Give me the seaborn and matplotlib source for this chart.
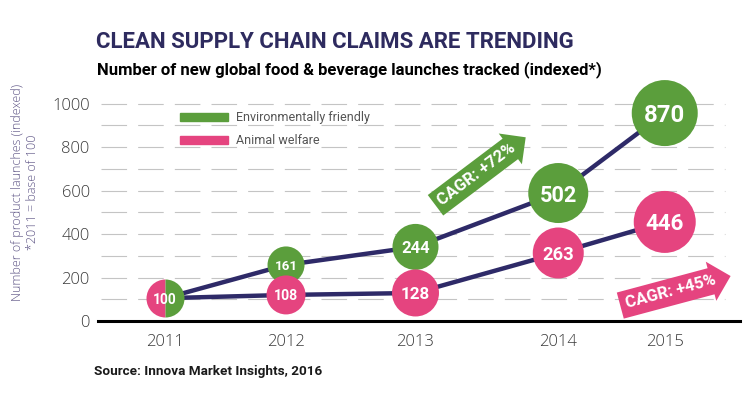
import seaborn as sns
import matplotlib.pyplot as plt
from matplotlib.patches import Patch

years = ['2011', '2012', '2013', '2014', '2015']
year_pos = [0, 1, 2.07, 3.25, 4.13]  # the years are not evenly spaced in the picture

env_labels = [100, 161, 244, 502, 870]
env_y = [105, 258, 341, 589, 957]  # height the bubbles are drawn at
env_r = [19, 18.5, 23, 30, 33]  # bubble radius (px)

animal_labels = [100, 108, 128, 263, 446]
animal_y = [105, 120, 129, 313, 456]
animal_r = [19, 19.5, 23.5, 25.5, 31]

series_names = ['Environmentally friendly', 'Animal welfare']
cagr = ['+72%', '+45%']

green = '#5b9e3c'
pink = '#e5447f'
navy = '#2e2a68'
W, H = 744, 398
narrow = ['Liberation Sans Narrow', 'Roboto', 'DejaVu Sans']
light = ['Open Sans', 'DejaVu Sans']

sns.set_style('white')
plt.rcParams['font.family'] = light

fig = plt.figure(figsize=(W / 100, H / 100), dpi=100)
ax = fig.add_axes([98 / W, 77 / H, 642 / W, 239 / H])
ax.set_xlim(-0.554, 4.752)
ax.set_ylim(0, 1100)

# dashed guide lines every 100
for v in range(100, 1001, 100):
    ax.axhline(v, xmin=0.004, xmax=0.976, color='#c4c4c4', lw=0.8, dashes=(23, 10), zorder=0)


def px_area(r):
    # scatter size is in points^2
    return (2 * r * 72 / 100) ** 2


# lines first, bubbles on top
sns.lineplot(x=year_pos, y=env_y, color=navy, lw=3.2, errorbar=None, ax=ax, zorder=2)
sns.lineplot(x=year_pos, y=animal_y, color=navy, lw=3.2, errorbar=None, ax=ax, zorder=2)

sns.scatterplot(x=year_pos[1:], y=env_y[1:], s=[px_area(r) for r in env_r[1:]],
                color=green, linewidth=0, ax=ax, zorder=3, clip_on=False)
sns.scatterplot(x=year_pos[1:], y=animal_y[1:], s=[px_area(r) for r in animal_r[1:]],
                color=pink, linewidth=0, ax=ax, zorder=4, clip_on=False)
# 2011 is the shared base: half pink, half green
ax.plot([year_pos[0]], [env_y[0]], marker='o', ms=2 * env_r[0] * 0.72, fillstyle='left',
        markerfacecolor=pink, markerfacecoloralt=green, markeredgewidth=0, zorder=5, clip_on=False)

for xs, ys, rs, labs, z in [(year_pos, env_y, env_r, env_labels, 6),
                            (year_pos[1:], animal_y[1:], animal_r[1:], animal_labels[1:], 7)]:
    for x, y, r, lab in zip(xs, ys, rs, labs):
        ax.text(x, y, str(lab), ha='center', va='center_baseline', color='white',
                fontsize=r * 0.52, fontweight='bold', family=narrow, zorder=z + 2)

# axes styling
sns.despine(ax=ax, left=True, top=True, right=True)
ax.spines['bottom'].set_linewidth(2.2)
ax.spines['bottom'].set_color('black')
ax.set_xticks(year_pos)
ax.set_xticklabels(years)
ax.set_yticks(range(0, 1001, 200))
ax.tick_params(axis='x', length=0, pad=9, labelsize=12, labelcolor='#3a3a3a')
ax.tick_params(axis='y', length=0, pad=6, labelsize=12, labelcolor='#3a3a3a')
for t in ax.get_xticklabels() + ax.get_yticklabels():
    t.set_fontweight('light')

# legend
handles = [Patch(color=green), Patch(color=pink)]
leg = ax.legend(handles, series_names, loc='upper left', bbox_to_anchor=(169 / W, 1 - 100 / H),
                bbox_transform=fig.transFigure, frameon=False, handlelength=3.8, handleheight=0.6,
                handletextpad=0.7, labelspacing=0.8,
                prop={'family': narrow, 'size': 9, 'weight': 'normal'})
for t in leg.get_texts():
    t.set_color('#555555')

# CAGR arrows
fig.text(477 / W, 1 - 174 / H, 'CAGR: ' + cagr[0], rotation=37, rotation_mode='anchor',
         ha='center', va='center', color='white', fontsize=12, fontweight='bold', family=narrow,
         bbox=dict(boxstyle='rarrow,pad=0.32', fc=green, ec='none'))
fig.text(671 / W, 1 - 292 / H, 'CAGR: ' + cagr[1], rotation=15, rotation_mode='anchor',
         ha='center', va='center', color='white', fontsize=12, fontweight='bold', family=narrow,
         bbox=dict(boxstyle='rarrow,pad=0.36', fc=pink, ec='none'))

# titles, axis note, source
fig.text(96 / W, 1 - 42 / H, 'CLEAN SUPPLY CHAIN CLAIMS ARE TRENDING', va='center',
         fontsize=16, fontweight='bold', color='#2e2b5f', family=narrow)
fig.text(97 / W, 1 - 70 / H, 'Number of new global food & beverage launches tracked (indexed*)',
         va='center', fontsize=12, fontweight='bold', color='black', family=narrow)
fig.text(25 / W, 1 - 192 / H, 'Number of product launches (indexed)\n*2011 = base of 100',
         rotation=90, ha='center', va='center', multialignment='center', linespacing=1.1,
         fontsize=9, fontweight='light', color='#5d5485')
fig.text(94 / W, 1 - 371 / H, 'Source: Innova Market Insights, 2016', va='center',
         fontsize=9.7, fontweight='bold', color='#1a1a1a', family=narrow)

fig.savefig('out.png', dpi=100)
